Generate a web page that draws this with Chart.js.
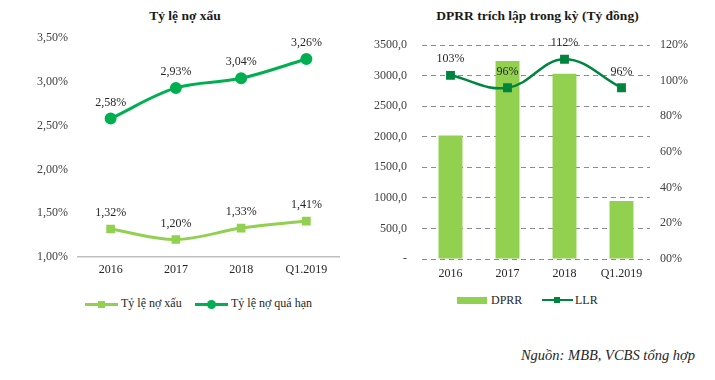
<!DOCTYPE html>
<html>
<head>
<meta charset="utf-8">
<script src="https://cdn.jsdelivr.net/npm/chart.js@4/dist/chart.umd.min.js"></script>
<style>
  body { margin: 0; background: #fff; width: 715px; height: 380px; position: relative; overflow: hidden; font-family: "Liberation Serif", "Times New Roman", serif; }
  .title { position: absolute; top: 8px; font-weight: bold; font-size: 13.5px; color: #1a1a1a; text-align: center; }
  .cv { position: absolute; top: 0; }
  .leg { position: absolute; font-size: 12px; color: #262626; white-space: nowrap; }
  .leg span.mk { position: absolute; }
  .src { position: absolute; right: 20px; top: 347px; font-style: italic; font-size: 14.5px; color: #262626; }
</style>
</head>
<body>
<div class="title" style="left:0; width:370px;">Tỷ lệ nợ xấu</div>
<div class="title" style="left:360px; width:355px;">DPRR trích lập trong kỳ (Tỷ đồng)</div>

<div class="cv" style="left:0; width:355px; height:287px;"><canvas id="nplChart"></canvas></div>
<div class="cv" style="left:360px; width:355px; height:289px;"><canvas id="dprrChart"></canvas></div>

<!-- legends -->
<div class="leg" style="left:85px; top:296px;">
  <span class="mk" style="left:0; top:7px; width:33px; height:3px; background:#92D050;"></span>
  <span class="mk" style="left:13px; top:5px; width:7px; height:7px; background:#92D050;"></span>
  <span style="margin-left:36px;">Tỷ lệ nợ xấu</span>
</div>
<div class="leg" style="left:195px; top:296px;">
  <span class="mk" style="left:0; top:7px; width:33px; height:3px; background:#00B050;"></span>
  <span class="mk" style="left:12px; top:4px; width:9px; height:9px; border-radius:50%; background:#00B050;"></span>
  <span style="margin-left:36px;">Tỷ lệ nợ quá hạn</span>
</div>
<div class="leg" style="left:457px; top:293px;">
  <span class="mk" style="left:0; top:4px; width:30px; height:7px; background:#92D050;"></span>
  <span style="margin-left:34px;">DPRR</span>
</div>
<div class="leg" style="left:542px; top:293px;">
  <span class="mk" style="left:0; top:6px; width:31px; height:2px; background:#00853E;"></span>
  <span class="mk" style="left:12px; top:4px; width:6px; height:6px; background:#00853E;"></span>
  <span style="margin-left:33px;">LLR</span>
</div>

<div class="src">Nguồn: MBB, VCBS tổng hợp</div>

<script>
const years = ['2016', '2017', '2018', 'Q1.2019'];
const nplRatio = [1.32, 1.20, 1.33, 1.41];      // Tỷ lệ nợ xấu (%)
const overdueRatio = [2.58, 2.93, 3.04, 3.26];  // Tỷ lệ nợ quá hạn (%)
const dprr = [2020, 3240, 3030, 950];           // DPRR (tỷ đồng)
const llr = [1.03, 0.96, 1.12, 0.96];           // LLR

const FONT = '"Liberation Serif", "Times New Roman", serif';
Chart.defaults.font.family = FONT;
Chart.defaults.font.size = 12;
Chart.defaults.animation = false;

// draws value labels above the line points
const pointLabels = {
  id: 'pointLabels',
  afterDatasetsDraw(chart) {
    const ctx = chart.ctx;
    chart.data.datasets.forEach((ds, i) => {
      if (!ds.labelFmt) return;
      const meta = chart.getDatasetMeta(i);
      ctx.save();
      ctx.font = '12px ' + FONT;
      ctx.fillStyle = '#262626';
      ctx.textAlign = 'center';
      ctx.textBaseline = 'middle';
      meta.data.forEach((pt, j) => {
        ctx.fillText(ds.labelFmt(ds.data[j]), pt.x, pt.y - 16);
      });
      ctx.restore();
    });
  }
};

const pct2 = v => v.toFixed(2).replace('.', ',') + '%';

new Chart(document.getElementById('nplChart'), {
  type: 'line',
  data: {
    labels: years,
    datasets: [
      { label: 'Tỷ lệ nợ xấu', data: nplRatio, borderColor: '#92D050', backgroundColor: '#92D050',
        borderWidth: 3, pointStyle: 'rect', pointRadius: 4, tension: 0.35, labelFmt: pct2 },
      { label: 'Tỷ lệ nợ quá hạn', data: overdueRatio, borderColor: '#00B050', backgroundColor: '#00B050',
        borderWidth: 3, pointStyle: 'circle', pointRadius: 4.5, tension: 0.35, labelFmt: pct2 }
    ]
  },
  options: {
    responsive: true, maintainAspectRatio: false,
    layout: { padding: { top: 38, right: 16, left: 0, bottom: 0 } },
    plugins: { legend: { display: false }, tooltip: { enabled: false } },
    scales: {
      x: {
        offset: true,
        grid: { display: false, drawTicks: false },
        border: { display: true, color: '#bfbfbf', width: 1.5 },
        ticks: { color: '#262626', padding: 6, font: { size: 12 } },
        afterFit: s => { s.height = 30; }
      },
      y: {
        min: 1, max: 3.5,
        grid: { display: false, drawTicks: false },
        border: { display: false },
        ticks: { stepSize: 0.5, color: '#404040', padding: 10, callback: v => pct2(v) },
        afterFit: s => { s.width = 78; }
      }
    }
  },
  plugins: [pointLabels]
});

new Chart(document.getElementById('dprrChart'), {
  data: {
    labels: years,
    datasets: [
      { type: 'line', label: 'LLR', data: llr, yAxisID: 'y1', order: 0,
        borderColor: '#00853E', backgroundColor: '#00853E', borderWidth: 2.5,
        pointStyle: 'rect', pointRadius: 4.5, tension: 0.4,
        labelFmt: v => Math.round(v * 100) + '%' },
      { type: 'bar', label: 'DPRR', data: dprr, yAxisID: 'y', order: 1,
        backgroundColor: '#92D050', barPercentage: 0.42, categoryPercentage: 1 }
    ]
  },
  options: {
    responsive: true, maintainAspectRatio: false,
    layout: { padding: { top: 45, right: 0, left: 0, bottom: 0 } },
    plugins: { legend: { display: false }, tooltip: { enabled: false } },
    scales: {
      x: {
        grid: { display: false, drawTicks: false },
        border: { display: false },
        ticks: { color: '#262626', padding: 8 },
        afterFit: s => { s.height = 30; }
      },
      y: {
        position: 'left', min: 0, max: 3500,
        grid: { color: '#8c8c8c', lineWidth: 1, drawTicks: false },
        border: { display: false, dash: [5, 4] },
        ticks: { stepSize: 500, color: '#404040', padding: 15,
          callback: v => v === 0 ? '-' : v.toFixed(1).replace('.', ',') },
        afterFit: s => { s.width = 62; }
      },
      y1: {
        position: 'right', min: 0, max: 1.2,
        grid: { display: false, drawTicks: false },
        border: { display: false },
        ticks: { stepSize: 0.2, color: '#404040', padding: 10,
          callback: v => v === 0 ? '00%' : Math.round(v * 100) + '%' },
        afterFit: s => { s.width = 65; }
      }
    }
  },
  plugins: [pointLabels]
});
</script>
</body>
</html>
